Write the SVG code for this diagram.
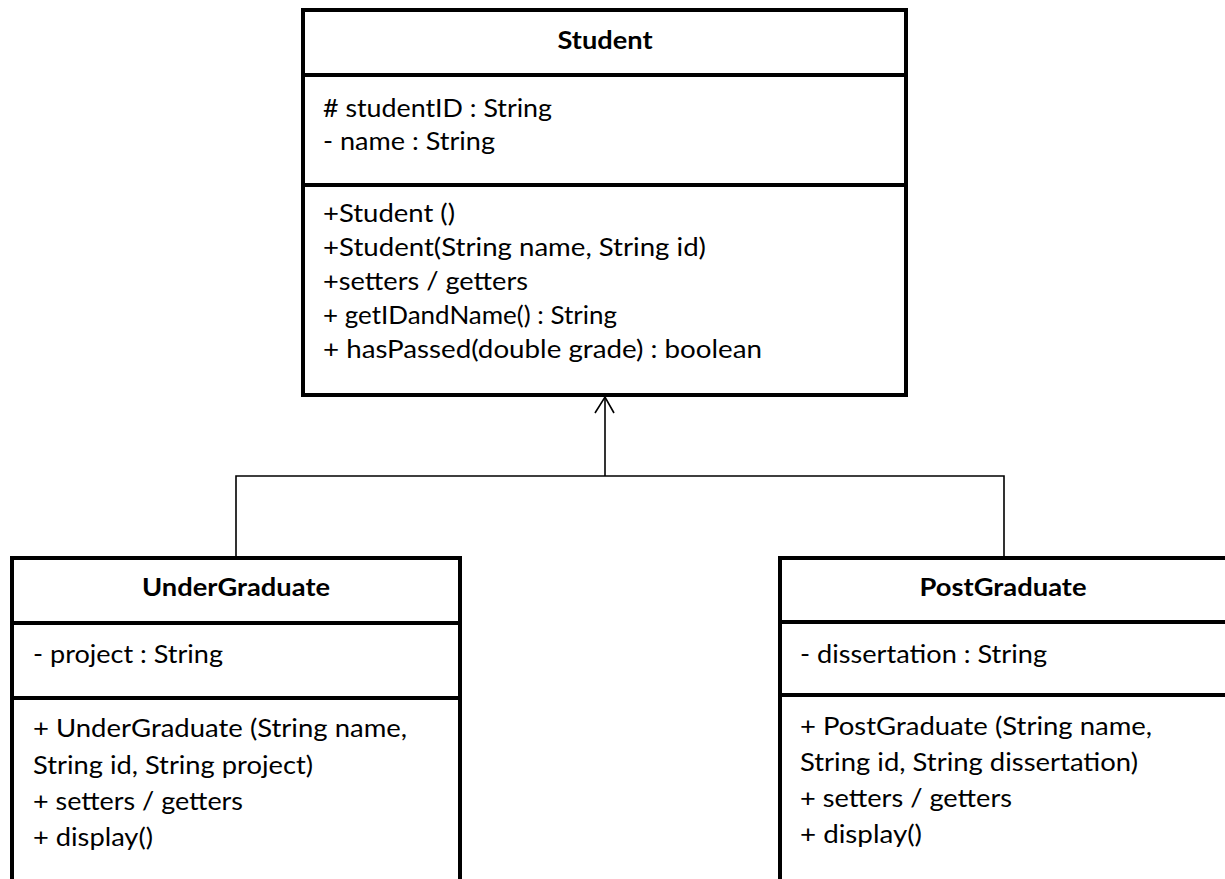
<svg xmlns="http://www.w3.org/2000/svg" width="1225" height="879" viewBox="0 0 1225 879">
<style>
.box{fill:#fff;stroke:#000;stroke-width:4}
.div{stroke:#000;stroke-width:4}
.t{font-family:Lato,"Liberation Sans",sans-serif;font-size:25px;fill:#000}
.b{font-weight:bold;text-anchor:middle}
.c{fill:none;stroke:#000;stroke-width:1.6}
</style>
<rect width="1225" height="879" fill="#fff"/>
<g id="connectors">
<polyline class="c" points="605,397 605,476"/>
<polyline class="c" points="236,557 236,476 1004,476 1004,557"/>
<polyline class="c" points="595,413 605,397 614,413"/>
</g>
<g id="student">
<rect class="box" x="303" y="10" width="603" height="385"/>
<line class="div" x1="303" y1="75" x2="906" y2="75"/>
<line class="div" x1="303" y1="185" x2="906" y2="185"/>
<text class="t b" x="605" y="49" textLength="95" lengthAdjust="spacingAndGlyphs">Student</text>
<text class="t" x="323" y="117" textLength="229" lengthAdjust="spacingAndGlyphs"># studentID : String</text>
<text class="t" x="323" y="150" textLength="172" lengthAdjust="spacingAndGlyphs">- name : String</text>
<text class="t" x="323" y="222" textLength="132" lengthAdjust="spacingAndGlyphs">+Student ()</text>
<text class="t" x="323" y="256" textLength="383" lengthAdjust="spacingAndGlyphs">+Student(String name, String id)</text>
<text class="t" x="323" y="290" textLength="205" lengthAdjust="spacingAndGlyphs">+setters / getters</text>
<text class="t" x="323" y="324" textLength="294" lengthAdjust="spacingAndGlyphs">+ getIDandName() : String</text>
<text class="t" x="323" y="358" textLength="439" lengthAdjust="spacingAndGlyphs">+ hasPassed(double grade) : boolean</text>
</g>
<g id="undergraduate">
<rect class="box" x="12" y="558" width="448" height="400"/>
<line class="div" x1="12" y1="623" x2="460" y2="623"/>
<line class="div" x1="12" y1="698" x2="460" y2="698"/>
<text class="t b" x="236" y="596" textLength="188" lengthAdjust="spacingAndGlyphs">UnderGraduate</text>
<text class="t" x="33" y="663" textLength="190" lengthAdjust="spacingAndGlyphs">- project : String</text>
<text class="t" x="33" y="737" textLength="374" lengthAdjust="spacingAndGlyphs">+ UnderGraduate (String name,</text>
<text class="t" x="33" y="774" textLength="280" lengthAdjust="spacingAndGlyphs">String id, String project)</text>
<text class="t" x="33" y="810" textLength="210" lengthAdjust="spacingAndGlyphs">+ setters / getters</text>
<text class="t" x="33" y="846" textLength="120" lengthAdjust="spacingAndGlyphs">+ display()</text>
</g>
<g id="postgraduate">
<rect class="box" x="780" y="558" width="460" height="400"/>
<line class="div" x1="780" y1="622" x2="1240" y2="622"/>
<line class="div" x1="780" y1="695" x2="1240" y2="695"/>
<text class="t b" x="1003" y="596" textLength="167" lengthAdjust="spacingAndGlyphs">PostGraduate</text>
<text class="t" x="800" y="663" textLength="247" lengthAdjust="spacingAndGlyphs">- dissertation : String</text>
<text class="t" x="800" y="735" textLength="352" lengthAdjust="spacingAndGlyphs">+ PostGraduate (String name,</text>
<text class="t" x="800" y="771" textLength="338" lengthAdjust="spacingAndGlyphs">String id, String dissertation)</text>
<text class="t" x="800" y="807" textLength="212" lengthAdjust="spacingAndGlyphs">+ setters / getters</text>
<text class="t" x="800" y="843" textLength="122" lengthAdjust="spacingAndGlyphs">+ display()</text>
</g>
</svg>
